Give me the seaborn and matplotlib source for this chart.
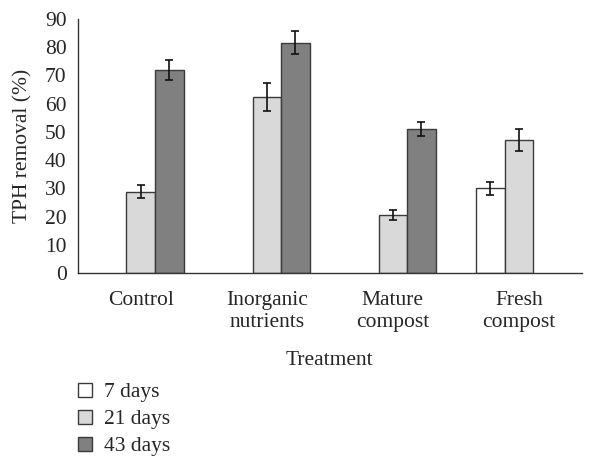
import numpy as np
import pandas as pd
import seaborn as sns
import matplotlib.pyplot as plt
from matplotlib.ticker import FixedLocator

# ---- data ----
treatments = ["Control", "Inorganic\nnutrients", "Mature\ncompost", "Fresh\ncompost"]
periods = ["7 days", "21 days", "43 days"]
removal_7 = [np.nan, np.nan, np.nan, 30.0]
removal_21 = [28.9, 62.4, 20.5, 47.1]
removal_43 = [71.9, 81.6, 51.0, np.nan]
err_7 = [np.nan, np.nan, np.nan, 2.4]
err_21 = [2.3, 5.0, 1.7, 3.8]
err_43 = [3.6, 4.0, 2.5, np.nan]
colors = ["#ffffff", "#d9d9d9", "#808080"]

rows = []
for p, vals, errs in zip(periods, [removal_7, removal_21, removal_43], [err_7, err_21, err_43]):
    for t, v, e in zip(treatments, vals, errs):
        if not np.isnan(v):
            rows.append({"Treatment": t, "Period": p, "TPH": v, "err": e})
df = pd.DataFrame(rows)

sns.set_theme(style="white")
plt.rcParams["font.family"] = ["Liberation Serif", "DejaVu Serif"]
FS = 15.5

fig = plt.figure(figsize=(6.0, 4.59), dpi=100)
ax = fig.add_axes([0.1295, 0.405, 0.8405, 0.5536])

sns.barplot(data=df, x="Treatment", y="TPH", hue="Period", order=treatments,
            hue_order=periods, palette=colors, width=0.68, dodge=True,
            errorbar=None, edgecolor="#3a3a3a", linewidth=1.0, ax=ax, legend=True)

# error bars from the bar geometry
for cont, p in zip(ax.containers, periods):
    present = [t for t in treatments if t in set(df[df["Period"] == p]["Treatment"])]
    sub = df[df["Period"] == p].set_index("Treatment").reindex(present)
    for bar, (_, r) in zip(cont.patches, sub.iterrows()):
        xc = bar.get_x() + bar.get_width() / 2
        ax.errorbar(xc, bar.get_height(), yerr=r["err"], fmt="none",
                    ecolor="#111111", elinewidth=1.2, capsize=3.2, capthick=1.2)

ax.set_ylim(0, 90)
ax.set_xlim(-0.5, len(treatments) - 0.5)
ax.set_yticks(range(0, 91, 10))
ax.set_ylabel("TPH removal (%)", fontsize=FS, labelpad=9)
ax.set_xlabel("Treatment", fontsize=FS, labelpad=14)

ax.xaxis.set_minor_locator(FixedLocator(np.arange(-0.5, len(treatments), 1.0)))
ax.tick_params(axis="x", which="major", length=0, pad=13, labelsize=FS)
ax.tick_params(axis="x", which="minor", length=6, width=1, color="#333333", direction="out")
ax.tick_params(axis="y", length=5, width=1, color="#333333", direction="out", pad=3, labelsize=FS)
for lbl in ax.get_xticklabels():
    lbl.set_linespacing(1.2)

sns.despine(ax=ax)
for s in ["left", "bottom"]:
    ax.spines[s].set_color("#333333")
    ax.spines[s].set_linewidth(1.0)

handles, labels = ax.get_legend_handles_labels()
ax.get_legend().remove()
fig.legend(handles, labels, loc="upper left", bbox_to_anchor=(0.112, 0.19),
           frameon=False, fontsize=FS, handlelength=0.65, handleheight=0.65,
           handletextpad=0.55, labelspacing=0.34, borderpad=0)

fig.savefig("out.png", dpi=100)
